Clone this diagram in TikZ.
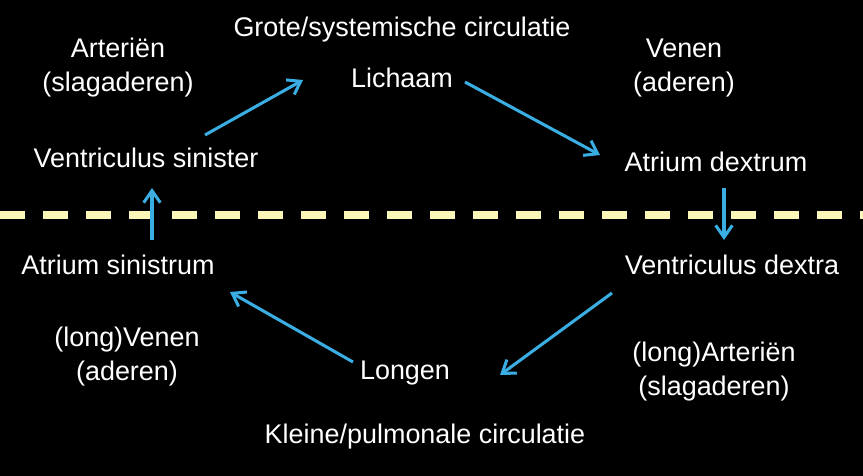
\documentclass[tikz,border=0pt]{standalone}
\usepackage{fontspec}
\setmainfont{Liberation Sans}
\usepackage{xcolor}
\definecolor{flowBlue}  {HTML}{3AAEE2}
\definecolor{splitLine} {HTML}{FAF7B8}
\usetikzlibrary{arrows.meta, calc}
\tikzset{
    lbl/.style={text=white, align=center, inner sep=2pt,
                font=\fontsize{23}{29}\selectfont},
    flow/.style={-{Straight Barb[length=3.6mm, width=5mm]}, line width=2.6pt,
                 flowBlue},
    divider/.style={line width=6pt, splitLine,
                    dash pattern=on 0.75cm off 0.54cm},
}

\begin{document}
\begin{tikzpicture}[x=0.03cm, y=-0.03cm]
% Background fixes the page size.
\fill[black] (0,0) rectangle (863,476);
\useasboundingbox (0,0) rectangle (863,476);
% Dividing line between the two circulations.
\coordinate (divL) at (0,215);
\coordinate (divR) at (863,215);
\draw[divider] (divL) -- (divR);
% Titles.
\node[lbl] (grote)  at (402, 30) {Grote/systemische circulatie};
\node[lbl] (kleine) at (425,437) {Kleine/pulmonale circulatie};
% Vessel labels.
\node[lbl] (art)  at (118, 68) {Arteriën\\(slagaderen)};
\node[lbl] (ven)  at (684, 68) {Venen\\(aderen)};
\node[lbl] (lven) at (127,357) {(long)Venen\\(aderen)};
\node[lbl] (lart) at (714,372) {(long)Arteriën\\(slagaderen)};
% Stations of the circuit.
\node[lbl] (lichaam) at (402, 78) {Lichaam};
\node[lbl] (vsin)    at (146,158) {Ventriculus sinister};
\node[lbl] (adex)    at (716,162) {Atrium dextrum};
\node[lbl] (asin)    at (118,265) {Atrium sinistrum};
\node[lbl] (vdex)    at (732,265) {Ventriculus dextra};
\node[lbl] (longen)  at (405,373) {Longen};
% Flow arrows.
\draw[flow] ($(vsin)+(59,-23)$)    -- ($(lichaam)+(-99,2)$);
\draw[flow] ($(lichaam)+(63,4)$)   -- ($(adex)+(-116,-7)$);
\draw[flow] ($(adex)+(8,26)$)      -- ($(vdex)+(-8,-25)$);
\draw[flow] ($(vdex)+(-120,28)$)   -- ($(longen)+(95,2)$);
\draw[flow] ($(longen)+(-52,-11)$) -- ($(asin)+(112,27)$);
\draw[flow] ($(asin)+(34,-25)$)    -- ($(vsin)+(6,30)$);
\end{tikzpicture}
\end{document}
